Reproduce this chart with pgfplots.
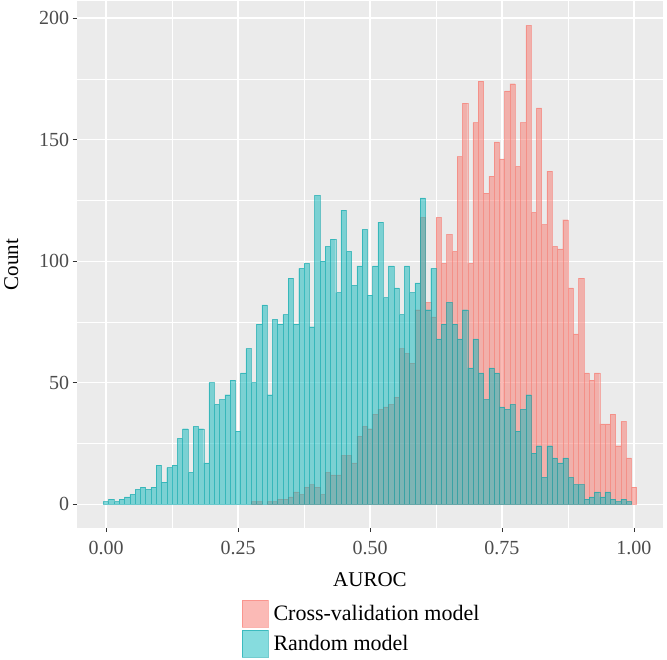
\documentclass[border=0pt]{standalone}
\usepackage{pgfplots}
\usepackage{pgfplotstable}
\pgfplotsset{compat=1.18}
\usepackage{fontspec}
\setmainfont{Liberation Serif}
\definecolor{cvred}{HTML}{F8766D}
\definecolor{rcyan}{HTML}{00BFC4}
\definecolor{panel}{HTML}{EBEBEB}

\pgfplotstableread{
x y
0.28 1
0.29 1
0.31 1
0.32 1
0.33 2
0.34 2
0.35 3
0.36 5
0.37 4
0.38 7
0.39 8
0.40 7
0.41 4
0.42 13
0.43 12
0.44 12
0.45 20
0.46 20
0.47 17
0.48 28
0.49 32
0.50 31
0.51 37
0.52 39
0.53 40
0.54 41
0.55 44
0.56 64
0.57 62
0.58 58
0.59 80
0.60 118
0.61 83
0.62 77
0.63 118
0.64 99
0.65 111
0.66 104
0.67 143
0.68 165
0.69 99
0.70 157
0.71 174
0.72 128
0.73 135
0.74 149
0.75 142
0.76 170
0.77 173
0.78 139
0.79 157
0.80 197
0.81 120
0.82 163
0.83 115
0.84 137
0.85 106
0.86 105
0.87 117
0.88 89
0.89 70
0.90 93
0.91 54
0.92 51
0.93 54
0.94 33
0.95 33
0.96 37
0.97 24
0.98 34
0.99 19
1.00 7
}\cvtable

\pgfplotstableread{
x y
0.00 1
0.01 2
0.02 1
0.03 2
0.04 3
0.05 4
0.06 6
0.07 7
0.08 6
0.09 7
0.10 16
0.11 9
0.12 15
0.13 16
0.14 27
0.15 31
0.16 13
0.17 32
0.18 31
0.19 17
0.20 50
0.21 41
0.22 43
0.23 45
0.24 51
0.25 30
0.26 54
0.27 64
0.28 50
0.29 74
0.30 82
0.31 45
0.32 76
0.33 74
0.34 78
0.35 93
0.36 74
0.37 97
0.38 99
0.39 73
0.40 127
0.41 100
0.42 106
0.43 109
0.44 87
0.45 121
0.46 104
0.47 90
0.48 98
0.49 113
0.50 86
0.51 98
0.52 116
0.53 85
0.54 98
0.55 89
0.56 78
0.57 98
0.58 87
0.59 91
0.60 126
0.61 80
0.62 97
0.63 68
0.64 74
0.65 83
0.66 74
0.67 68
0.68 80
0.69 56
0.70 68
0.71 54
0.72 43
0.73 56
0.74 54
0.75 40
0.76 39
0.77 41
0.78 30
0.79 39
0.80 45
0.81 21
0.82 24
0.83 11
0.84 24
0.85 19
0.86 17
0.87 19
0.88 11
0.89 8
0.90 8
0.91 2
0.92 3
0.93 5
0.94 3
0.95 5
0.96 2
0.97 1
0.98 2
0.99 1
}\rndtable

\begin{document}
\begin{tikzpicture}
\useasboundingbox (-76.7pt,-131pt) rectangle (590.3pt,528pt);
\begin{axis}[
  at={(0pt,0pt)}, anchor=south west,
  scale only axis, width=586.6pt, height=526.6pt,
  xmin=-0.0555, xmax=1.0555, ymin=-9.85, ymax=206.85,
  axis background/.style={fill=panel},
  axis line style={draw=none},
  grid=both,
  major grid style={white, line width=1.1pt},
  minor grid style={white, line width=0.55pt},
  xtick={0,0.25,0.5,0.75,1}, minor xtick={0.125,0.375,0.625,0.875},
  xticklabels={0.00,0.25,0.50,0.75,1.00},
  ytick={0,50,100,150,200}, minor ytick={25,75,125,175},
  xtick pos=bottom, ytick pos=left,
  tick align=outside, major tick length=4pt, minor tick length=0pt,
  tick style={color=black!80, line width=0.6pt},
  /pgf/number format/assume math mode=true,
  ticklabel style={font=\fontsize{20}{20}\selectfont, text=black!70},
  xticklabel style={yshift=-6pt},
  xlabel={AUROC}, ylabel={Count},
  label style={font=\fontsize{21}{21}\selectfont},
  xlabel style={yshift=-11pt},
  ylabel style={yshift=14pt},
  ybar, bar width=0.01, bar shift=0pt,
  legend style={at={(0.2818,-0.137)}, anchor=north west, draw=none, fill=none,
    font=\fontsize{22}{22}\selectfont, inner sep=0pt, row sep=2pt,
    nodes={inner xsep=5pt}},
  legend cell align=left,
  legend image code/.code={\fill[#1] (0pt,-13.5pt) rectangle (26pt,13.5pt);},
]
\addplot[fill=cvred, fill opacity=0.5, draw=cvred, draw opacity=0.55, line width=0.3pt] table[x=x,y=y] {\cvtable};
\addlegendentry{Cross-validation model}
\addplot[fill=rcyan!90!gray, fill opacity=0.5, draw=rcyan!85!black, draw opacity=0.55, line width=0.3pt] table[x=x,y=y] {\rndtable};
\addlegendentry{Random model}
\end{axis}
\end{tikzpicture}
\end{document}
